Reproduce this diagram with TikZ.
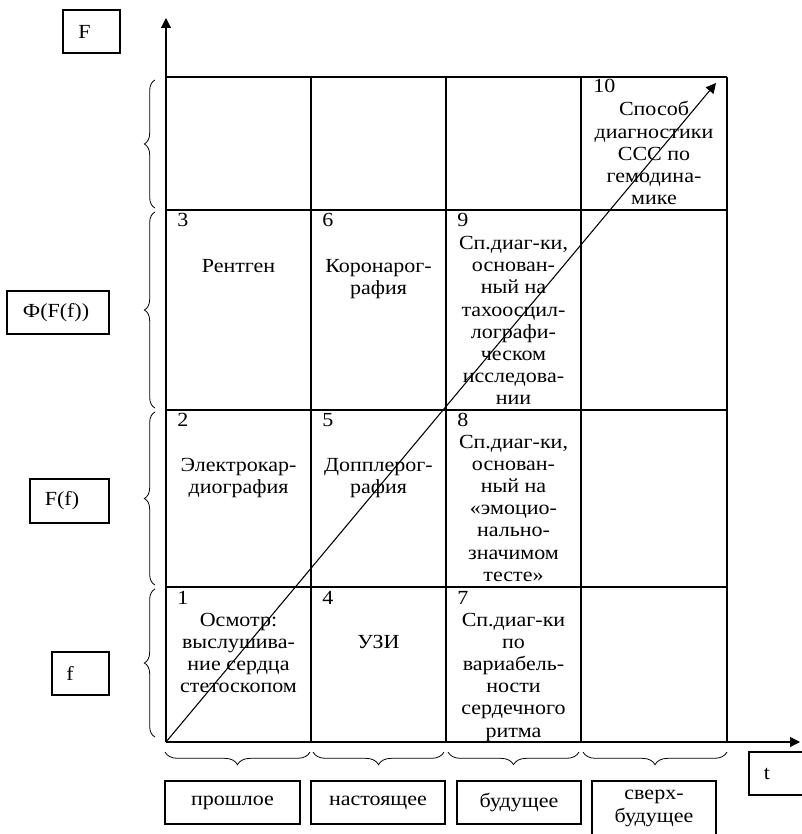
\documentclass[tikz,border=0pt]{standalone}
\usepackage{fontspec}
\setmainfont{Liberation Serif}[FakeStretch=1.1]
\usepackage{tikz}
\usetikzlibrary{arrows.meta,decorations.pathreplacing}

\begin{document}
\begin{tikzpicture}[
    x=0.75pt, y=-0.75pt,
    font=\fontsize{15}{16.65}\selectfont,
    grid/.style={draw=black, line width=0.8pt},
    axis/.style={draw=black, line width=0.8pt, -{Triangle[length=7.5pt,width=7.5pt]}},
    num/.style={anchor=base west, inner sep=0pt},
    cell/.style={anchor=base, align=center, inner sep=0pt},
    lbl/.style={rectangle, draw=black, line width=0.8pt, inner sep=0pt,
      minimum height=32.25pt, align=center},
    lbrace/.style={draw=black, line width=0.6pt, decorate,
      decoration={brace, amplitude=8pt}},
    bbrace/.style={draw=black, line width=0.6pt, decorate,
      decoration={brace, amplitude=9.5pt}}
  ]
  \useasboundingbox (0,0) rectangle (801,834);

  \foreach \gx in {311,446,581,727}
    \draw[grid] (\gx,77) -- (\gx,742);
  \foreach \gy in {77,210,410,587}
    \draw[grid] (166,\gy) -- (727,\gy);

  \coordinate (O) at (166,742);
  \coordinate (ytip) at (166,18);
  \coordinate (xtip) at (800,742);
  \coordinate (dtip) at (716,83);
  \draw[axis] (O) -- (ytip);
  \draw[axis] (O) -- (xtip);
  \draw[axis] (O) -- (dtip);

  % base of a multi-line cell = baseline of its last line
  \node[num] (n10) at (593,93) {10};
  \node[cell] (c10) at (654,204.8) {Способ\\диагностики\\ССС по\\гемодина-\\мике};
  \node[num] (n3) at (177,227) {3};
  \node[cell] (c3) at (238.5,272) {Рентген};
  \node[num] (n6) at (322,227) {6};
  \node[cell] (c6) at (378.5,294.2) {Коронарог-\\рафия};
  \node[num] (n9) at (457,227) {9};
  \node[cell] (c9) at (513.5,404.9) {Сп.диаг-ки,\\основан-\\ный на\\тахоосцил-\\лографи-\\ческом\\исследова-\\нии};
  \node[num] (n2) at (177,426) {2};
  \node[cell] (c2) at (238.5,493.2) {Электрокар-\\диография};
  \node[num] (n5) at (322,426) {5};
  \node[cell] (c5) at (378.5,493.2) {Допплерог-\\рафия};
  \node[num] (n8) at (457,426) {8};
  \node[cell] (c8) at (513.5,581.2) {Сп.диаг-ки,\\основан-\\ный на\\«эмоцио-\\нально-\\значимом\\тесте»};
  \node[num] (n1) at (177,604) {1};
  \node[cell] (c1) at (238.5,692.6) {Осмотр:\\выслушива-\\ние сердца\\стетоскопом};
  \node[num] (n4) at (322,604) {4};
  \node[cell] (c4) at (378.5,648) {УЗИ};
  \node[num] (n7) at (457,604) {7};
  \node[cell] (c7) at (513.5,737) {Сп.диаг-ки\\по\\вариабель-\\ности\\сердечного\\ритма};

  \draw[lbrace] (155,208) -- (155,80);
  \draw[lbrace] (155,408) -- (155,212);
  \draw[lbrace] (155,585) -- (155,412);
  \draw[lbrace] (155,737) -- (155,589);
  \draw[bbrace] (310,752) -- (165,752);
  \draw[bbrace] (444,752) -- (313,752);
  \draw[bbrace] (579,752) -- (448,752);
  \draw[bbrace] (727,752) -- (583,752);

  \node[lbl, minimum width=42.75pt] (lF) at (91.5,31.5) {F\hspace*{10.5pt}};
  \node[lbl, minimum width=76.5pt] (lPhi) at (58,312.5) {Ф(F(f))\hspace*{3pt}};
  \node[lbl, minimum width=59.25pt, minimum height=33pt] (lFf) at (69.5,501) {F(f)\hspace*{11.25pt}};
  \node[lbl, minimum width=42.75pt] (lf) at (80.5,673.5) {f\hspace*{15.75pt}};
  \node[lbl, minimum width=40.5pt] (lt) at (776,773.5) {t\hspace*{13.5pt}};

  \node[lbl, minimum width=101.25pt] (past) at (232.5,802.5) {прошлое};
  \node[lbl, minimum width=100.5pt] (present) at (378,802.5) {настоящее};
  \node[lbl, minimum width=93pt] (future) at (519,802.5) {будущее};
  \node[lbl, minimum width=93pt, minimum height=41.25pt] (beyond) at (654,808.5) {сверх-\\будущее};
\end{tikzpicture}
\end{document}
